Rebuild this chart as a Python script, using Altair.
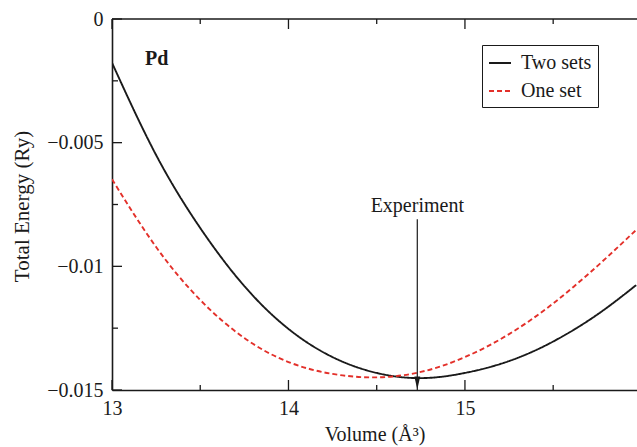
import altair as alt
import pandas as pd

# Total energy versus cell volume for Pd, two basis-set treatments
volume = [13.0, 13.25, 13.5, 13.75, 14.0, 14.25, 14.5, 14.75, 15.0, 15.25, 15.5, 15.75, 15.97]
two_sets = [-0.00177, -0.00550, -0.00845, -0.01080, -0.01253, -0.01367, -0.01431,
            -0.01452, -0.01431, -0.01383, -0.01304, -0.01195, -0.01076]
one_set = [-0.00648, -0.00922, -0.01136, -0.01290, -0.01387, -0.01435, -0.01449,
           -0.01427, -0.01367, -0.01274, -0.01150, -0.00999, -0.00853]
series_names = ["Two sets", "One set"]

experiment_volume = 14.73
experiment_arrow_top = -0.0081

x_major = [13, 14, 15]
x_minor = [13.5, 14.5, 15.5]
y_major = [0, -0.005, -0.01, -0.015]
y_minor = [-0.0025, -0.0075, -0.0125]

INK = "#1a1a1a"
RED = "#e3302a"
FONT = "Liberation Serif"
W, H = 525, 371

curves = pd.DataFrame({
    "volume": volume * 2,
    "energy": two_sets + one_set,
    "series": [series_names[0]] * len(volume) + [series_names[1]] * len(volume),
    "order": list(range(len(volume))) * 2,
})

xscale = alt.Scale(domain=[13, 15.975], nice=False, zero=False)
yscale = alt.Scale(domain=[-0.015, 0], nice=False, zero=False)

# one axis definition per channel, shared by every layer so they merge cleanly
xaxis = alt.Axis(values=x_major, format="d", title="Volume (Å³)", grid=False,
                 ticks=False, domain=True, domainColor=INK, domainWidth=1.6,
                 labelFont=FONT, labelFontSize=20, labelColor=INK, labelPadding=8,
                 labelFlush=False,
                 titleFont=FONT, titleFontSize=20, titleFontWeight="normal",
                 titleColor=INK, titleX=262.5, titleY=50,
                 titleBaseline="alphabetic", titleAnchor="middle")
yaxis = alt.Axis(values=y_major, format=".3~f", title="Total Energy (Ry)", grid=False,
                 ticks=False, domain=True, domainColor=INK, domainWidth=1.6,
                 labelFont=FONT, labelFontSize=20, labelColor=INK, labelPadding=9,
                 labelFlush=False,
                 titleFont=FONT, titleFontSize=21, titleFontWeight="normal",
                 titleColor=INK, titleX=-84, titleY=187, titleAngle=-90,
                 titleBaseline="alphabetic", titleAnchor="middle")

legend = alt.Legend(title=None, orient="none", legendX=370, legendY=26,
                    strokeColor=INK, fillColor="white", padding=6,
                    labelFont=FONT, labelFontSize=20, labelColor=INK,
                    labelOffset=9, symbolType="stroke", symbolSize=484,
                    symbolStrokeWidth=2, rowPadding=6)

lines = alt.Chart(curves).mark_line(strokeWidth=1.9, interpolate="natural", clip=True).encode(
    x=alt.X("volume:Q", scale=xscale, axis=xaxis),
    y=alt.Y("energy:Q", scale=yscale, axis=yaxis),
    color=alt.Color("series:N", scale=alt.Scale(domain=series_names, range=[INK, RED]),
                    legend=legend),
    strokeDash=alt.StrokeDash("series:N",
                              scale=alt.Scale(domain=series_names, range=[[1, 0], [5, 3]]),
                              legend=legend),
    order="order:Q",
)

# frame line along the top edge
top_line = alt.Chart(pd.DataFrame({"energy": [0]})).mark_rule(color=INK, strokeWidth=1.6).encode(
    y=alt.Y("energy:Q", scale=yscale, axis=yaxis))

# inward tick marks on left, bottom and top edges
def y_ticks(values, length):
    return alt.Chart(pd.DataFrame({"energy": values})).mark_rule(color=INK, strokeWidth=1.3).encode(
        y=alt.Y("energy:Q", scale=yscale, axis=yaxis), x=alt.value(0), x2=alt.value(length))

def x_ticks(values, length):
    df = pd.DataFrame({"volume": values})
    bottom = alt.Chart(df).mark_rule(color=INK, strokeWidth=1.3).encode(
        x=alt.X("volume:Q", scale=xscale, axis=xaxis), y=alt.value(H), y2=alt.value(H - length))
    top = alt.Chart(df).mark_rule(color=INK, strokeWidth=1.3).encode(
        x=alt.X("volume:Q", scale=xscale, axis=xaxis), y=alt.value(0), y2=alt.value(length))
    return bottom + top

arrow_df = pd.DataFrame({"volume": [experiment_volume], "energy": [experiment_arrow_top],
                         "bottom": [-0.015], "head": [-0.01472], "label": ["Experiment"]})
arrow_line = alt.Chart(arrow_df).mark_rule(color=INK, strokeWidth=1.2).encode(
    x=alt.X("volume:Q", scale=xscale, axis=xaxis),
    y=alt.Y("energy:Q", scale=yscale, axis=yaxis), y2="bottom:Q")
arrow_head = alt.Chart(arrow_df).mark_point(
    shape="M-0.45,-1L0.45,-1L0,1Z", size=169, filled=True, color=INK, opacity=1).encode(
    x=alt.X("volume:Q", scale=xscale, axis=xaxis),
    y=alt.Y("head:Q", scale=yscale, axis=yaxis))
arrow_text = alt.Chart(arrow_df).mark_text(
    font=FONT, fontSize=20, color=INK, align="center", baseline="alphabetic", dy=-7).encode(
    x=alt.X("volume:Q", scale=xscale, axis=xaxis),
    y=alt.Y("energy:Q", scale=yscale, axis=yaxis), text="label:N")

pd_label = alt.Chart(pd.DataFrame({"volume": [13.187], "energy": [-0.00185], "t": ["Pd"]})).mark_text(
    font=FONT, fontSize=20, fontWeight="bold", color=INK, align="left", baseline="alphabetic").encode(
    x=alt.X("volume:Q", scale=xscale, axis=xaxis),
    y=alt.Y("energy:Q", scale=yscale, axis=yaxis), text="t:N")

chart = alt.layer(
    lines, top_line,
    y_ticks(y_major, 10), y_ticks(y_minor, 6),
    x_ticks(x_major, 10), x_ticks(x_minor, 5),
    arrow_line, arrow_head, arrow_text, pd_label,
).properties(
    width=W, height=H,
    autosize=alt.AutoSizeParams(type="none"),
    padding={"left": 112, "top": 19, "right": 0, "bottom": 57},
    background="white",
).configure_view(stroke=None)

chart.save("out.html", embed_options={"renderer": "svg", "actions": False})
